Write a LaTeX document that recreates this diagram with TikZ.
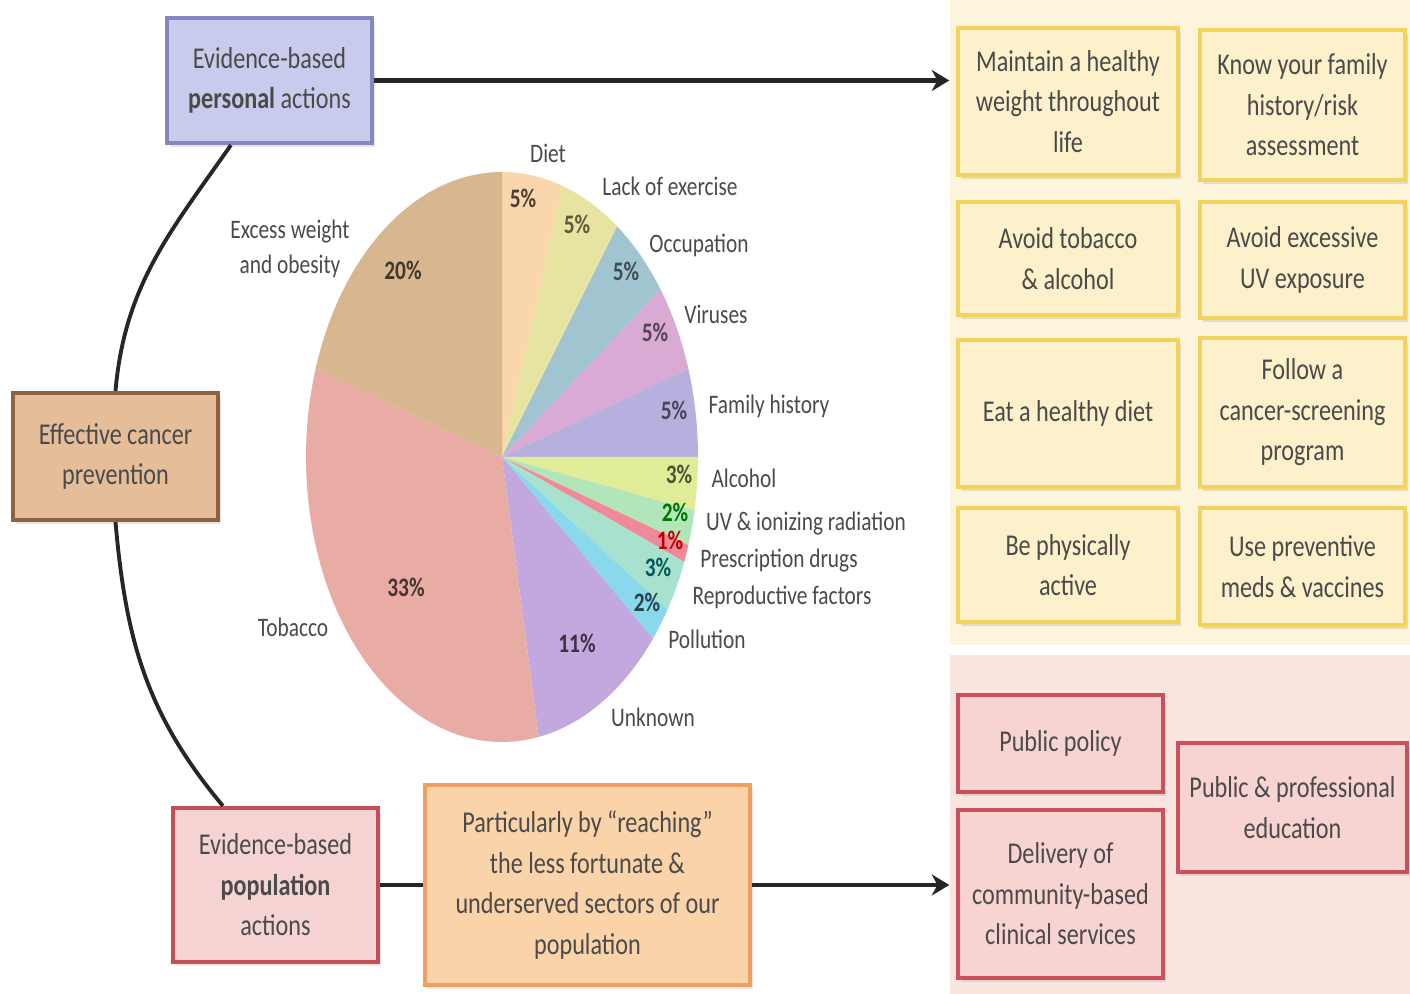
\documentclass[tikz,border=0pt]{standalone}
\usepackage{fontspec}
\setmainfont[FakeStretch=0.8]{Carlito}
\usepackage{xcolor}
\usepackage{tikz}
\usetikzlibrary{arrows,arrows.meta,calc,shadows}
\definecolor{txt}{HTML}{4A4A4A}
\definecolor{persfill}{HTML}{C9CBEC}
\definecolor{persline}{HTML}{8587C0}
\definecolor{efffill}{HTML}{E5BD98}
\definecolor{effline}{HTML}{8E6240}
\definecolor{popfill}{HTML}{F5D3D3}
\definecolor{popline}{HTML}{C24E58}
\definecolor{reachfill}{HTML}{FBD3A8}
\definecolor{reachline}{HTML}{EFA060}
\definecolor{yback}{HTML}{FCF5DB}
\definecolor{yfill}{HTML}{FDF1CB}
\definecolor{yline}{HTML}{F2D35E}
\definecolor{pback}{HTML}{FBE5E1}
\definecolor{pfill}{HTML}{F7D4D2}
\definecolor{pline}{HTML}{C9505C}
% pie colours
\definecolor{cDiet}{HTML}{FAD6AC}
\definecolor{cLack}{HTML}{E6E4A0}
\definecolor{cOcc}{HTML}{A0C4D0}
\definecolor{cVir}{HTML}{D8AAD4}
\definecolor{cFam}{HTML}{B6B0DE}
\definecolor{cAlc}{HTML}{E0EC98}
\definecolor{cUV}{HTML}{B0E6B8}
\definecolor{cDrug}{HTML}{F08A9A}
\definecolor{cRep}{HTML}{A8E2CE}
\definecolor{cPol}{HTML}{8AD8EC}
\definecolor{cUnk}{HTML}{C2A8DE}
\definecolor{cTob}{HTML}{E8ACA4}
\definecolor{cExc}{HTML}{D8B690}
\tikzset{Box/.style={rectangle,align=center,text=txt,font=\fontsize{8.6}{11.5}\selectfont,
    drop shadow={opacity=0.2,shadow xshift=0.8pt,shadow yshift=-1.2pt}},
  ybox/.style={Box,fill=yfill,draw=yline,line width=1.4pt},
  pbox/.style={Box,fill=pfill,draw=pline,line width=1.2pt},
  Lab/.style={text=txt,align=center,font=\fontsize{7.6}{10}\selectfont},
  Pct/.style={text=black!75,font=\bfseries\fontsize{7.6}{9}\selectfont}}

\begin{document}
\begin{tikzpicture}
    \useasboundingbox (0,0) rectangle (14.10,-9.94);
    % background panels
    \node[fill=yback,minimum width=4.6cm,minimum height=6.45cm] (Yp) at (11.80,-3.225) {};
    \node[fill=pback,minimum width=4.6cm,minimum height=3.39cm] (Pp) at (11.80,-8.245) {};
    % left boxes
    \node[Box,fill=persfill,draw=persline,line width=1.2pt,minimum width=2.05cm,minimum height=1.25cm] (Pers) at (2.695,-0.805) {Evidence-based\\\textbf{personal} actions};
    \node[Box,fill=efffill,draw=effline,line width=1.2pt,minimum width=2.05cm,minimum height=1.27cm] (Eff) at (1.155,-4.565) {Effective cancer\\prevention};
    \node[Box,fill=popfill,draw=popline,line width=1.2pt,minimum width=2.05cm,minimum height=1.54cm] (Pop) at (2.755,-8.85) {Evidence-based\\\textbf{population}\\actions};
    \node[Box,fill=reachfill,draw=reachline,line width=1.2pt,minimum width=3.25cm,minimum height=2.0cm] (Reach) at (5.875,-8.85) {Particularly by ``reaching''\\the less fortunate \&\\underserved sectors of our\\population};
    % personal actions
    \node[ybox,minimum width=2.2cm,minimum height=1.47cm] (Y1) at (10.68,-1.015) {Maintain a healthy\\weight throughout\\life};
    \node[ybox,minimum width=2.05cm,minimum height=1.50cm] (Y2) at (13.025,-1.05) {Know your family\\history/risk\\assessment};
    \node[ybox,minimum width=2.2cm,minimum height=1.13cm] (Y3) at (10.68,-2.585) {Avoid tobacco\\\& alcohol};
    \node[ybox,minimum width=2.05cm,minimum height=1.16cm] (Y4) at (13.025,-2.60) {Avoid excessive\\UV exposure};
    \node[ybox,minimum width=2.2cm,minimum height=1.47cm] (Y5) at (10.68,-4.135) {Eat a healthy diet};
    \node[ybox,minimum width=2.05cm,minimum height=1.49cm] (Y6) at (13.025,-4.125) {Follow a\\cancer-screening\\program};
    \node[ybox,minimum width=2.2cm,minimum height=1.14cm] (Y7) at (10.68,-5.65) {Be physically\\active};
    \node[ybox,minimum width=2.05cm,minimum height=1.17cm] (Y8) at (13.025,-5.665) {Use preventive\\meds \& vaccines};
    % population actions
    \node[pbox,minimum width=2.05cm,minimum height=0.97cm] (P1) at (10.605,-7.435) {Public policy};
    \node[pbox,minimum width=2.05cm,minimum height=1.68cm] (P2) at (10.605,-8.94) {Delivery of\\community-based\\clinical services};
    \node[pbox,minimum width=2.29cm,minimum height=1.29cm] (P3) at (12.925,-8.075) {Public \& professional\\education};
    % pie
    \coordinate (Pie) at (5.02,-4.57);
    \foreach \a/\b/\c in {90/72/cDiet,72/54/cLack,54/36/cOcc,36/18/cVir,18/0/cFam,
        0/-10.8/cAlc,-10.8/-18/cUV,-18/-21.6/cDrug,-21.6/-32.4/cRep,-32.4/-39.6/cPol,
        -39.6/-79.2/cUnk,-79.2/-198/cTob,-198/-270/cExc}
      \fill[\c] (Pie) -- ++(\a:1.96 and 2.85) arc[start angle=\a,end angle=\b,x radius=1.96,y radius=2.85] -- cycle;
    \node[Pct,text=cDiet!30!black] (pDiet) at (5.23,-1.98) {5\%};
    \node[Pct,text=cLack!40!black] (pLack) at (5.77,-2.24) {5\%};
    \node[Pct,text=cOcc!40!black] (pOcc) at (6.26,-2.71) {5\%};
    \node[Pct,text=cVir!40!black] (pVir) at (6.55,-3.32) {5\%};
    \node[Pct,text=cFam!40!black] (pFam) at (6.74,-4.10) {5\%};
    \node[Pct,text=cAlc!35!black] (pAlc) at (6.79,-4.74) {3\%};
    \node[Pct,text=green!45!black] (pUV) at (6.75,-5.12) {2\%};
    \node[Pct,text=red!75!black] (pDrug) at (6.70,-5.40) {1\%};
    \node[Pct,text=teal!70!black] (pRep) at (6.58,-5.67) {3\%};
    \node[Pct,text=cPol!30!black] (pPol) at (6.47,-6.02) {2\%};
    \node[Pct,text=cUnk!30!black] (pUnk) at (5.77,-6.43) {11\%};
    \node[Pct,text=cTob!30!black] (pTob) at (4.06,-5.87) {33\%};
    \node[Pct,text=cExc!30!black] (pExc) at (4.03,-2.70) {20\%};
    \node[Lab] (lDiet) at (5.48,-1.53) {Diet};
    \node[Lab] (lLack) at (6.70,-1.86) {Lack of exercise};
    \node[Lab] (lOcc) at (6.99,-2.45) {Occupation};
    \node[Lab] (lVir) at (7.16,-3.14) {Viruses};
    \node[Lab] (lFam) at (7.69,-4.06) {Family history};
    \node[Lab] (lAlc) at (7.44,-4.78) {Alcohol};
    \node[Lab] (lUV) at (8.06,-5.24) {UV \& ionizing radiation};
    \node[Lab] (lDrug) at (7.79,-5.61) {Prescription drugs};
    \node[Lab] (lRep) at (7.82,-5.97) {Reproductive factors};
    \node[Lab] (lPol) at (7.07,-6.39) {Pollution};
    \node[Lab] (lUnk) at (6.53,-7.17) {Unknown};
    \node[Lab] (lTob) at (2.93,-6.27) {Tobacco};
    \node[Lab] (lExc) at (2.90,-2.49) {Excess weight\\and obesity};
    % connectors
    \begin{scope}[line width=1.1pt,black!85]
      \draw ($(Pers.south west)+(0.66,0)$) to[out=235,in=85] (Eff.north);
      \draw (Eff.south) to[out=275,in=130] ($(Pop.north west)+(0.52,0)$);
      \draw (Pop.east) -- (Reach.west);
    \end{scope}
    \begin{scope}[-{Stealth[length=5pt,width=6pt]},line width=1.2pt,black!85]
      \draw (Pers.east) -- (Pers.east -| Yp.west);
      \draw (Reach.east) -- (Reach.east -| Pp.west);
    \end{scope}
  \end{tikzpicture}
\end{document}
